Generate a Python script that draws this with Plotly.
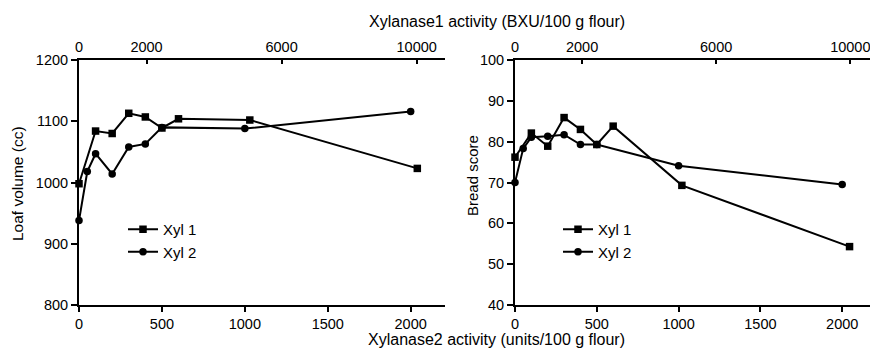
import plotly.graph_objects as go

# ---- data ----
xyl1_dose = [0, 100, 200, 300, 400, 500, 600, 1030, 2040]
xyl2_dose = [0, 50, 100, 200, 300, 400, 500, 1000, 2000]

loaf_xyl1 = [998, 1084, 1080, 1113, 1107, 1089, 1104, 1102, 1023]
loaf_xyl2 = [938, 1018, 1047, 1014, 1058, 1063, 1090, 1088, 1116]

score_xyl1_dose = [0, 100, 200, 300, 400, 500, 600, 1020, 2045]
score_xyl1 = [76.2, 82.1, 78.9, 85.9, 83.0, 79.3, 83.8, 69.3, 54.3]
score_xyl2 = [70.0, 78.3, 81.1, 81.3, 81.7, 79.3, 79.3, 74.1, 69.5]

bottom_ticks = [0, 500, 1000, 1500, 2000]
top_ticks = [0, 2000, 6000, 10000]
top_tick_labels = ["0", "2000", "6000", "10000"]
loaf_ticks = [800, 900, 1000, 1100, 1200]
score_ticks = [40, 50, 60, 70, 80, 90, 100]

FONT = "Liberation Sans, Arial, Helvetica, sans-serif"
FS = 14.5
TFS = 16

fig = go.Figure()

def add(x, y, name, symbol, xa, ya, legend):
    fig.add_trace(go.Scatter(
        x=x, y=y, name=name, mode="lines+markers",
        line=dict(color="black", width=2),
        marker=dict(symbol=symbol, size=7.5, color="black"),
        xaxis=xa, yaxis=ya, legend=legend, cliponaxis=False))

add(xyl1_dose, loaf_xyl1, "Xyl 1", "square", "x", "y", "legend")
add(xyl2_dose, loaf_xyl2, "Xyl 2", "circle", "x", "y", "legend")
add(score_xyl1_dose, score_xyl1, "Xyl 1", "square", "x2", "y2", "legend2")
add(xyl2_dose, score_xyl2, "Xyl 2", "circle", "x2", "y2", "legend2")

# empty traces so the top (BXU) axes are drawn
for xa, ya in (("x3", "y"), ("x4", "y2")):
    fig.add_trace(go.Scatter(x=top_ticks, y=[None] * len(top_ticks), mode="markers",
                             xaxis=xa, yaxis=ya, showlegend=False, hoverinfo="skip"))

W, H = 870, 348
ML, MR, MT, MB = 79, 0, 60, 43
PW = W - ML - MR
PH = H - MT - MB

def px_x(p):
    return (p - ML) / PW

def px_y(p):
    return (H - MB - p) / PH

left_dom = [0, px_x(445)]
right_dom = [px_x(515), 1.0]

bottom_common = dict(
    showline=True, linewidth=2, linecolor="black", showgrid=False, zeroline=False,
    ticks="outside", ticklen=5, tickwidth=1.5, tickcolor="black",
    tickvals=bottom_ticks, ticklabeloverflow="allow",
    tickfont=dict(family=FONT, size=FS, color="black"))
top_common = dict(
    showline=True, linewidth=1.5, linecolor="black", showgrid=False, zeroline=False,
    side="top", ticks="inside", ticklen=4, tickwidth=1.5, tickcolor="black",
    tickvals=top_ticks, ticktext=top_tick_labels, ticklabeloverflow="allow",
    tickfont=dict(family=FONT, size=FS, color="black"))
y_common = dict(
    showline=True, linewidth=2, linecolor="black", showgrid=False, zeroline=False,
    ticks="outside", ticklen=6, tickwidth=1.5, tickcolor="black",
    tickfont=dict(family=FONT, size=FS, color="black"))

fig.update_layout(
    width=W, height=H,
    margin=dict(l=ML, r=MR, t=MT, b=MB),
    paper_bgcolor="white", plot_bgcolor="white",
    font=dict(family=FONT, size=FS, color="black"),
    xaxis=dict(domain=left_dom, range=[0, 2207], anchor="y", **bottom_common),
    xaxis2=dict(domain=right_dom, range=[0, 2170], anchor="y2", **bottom_common),
    xaxis3=dict(overlaying="x", anchor="y", range=[0, 10838], **top_common),
    xaxis4=dict(overlaying="x2", anchor="y2", range=[0, 10588], **top_common),
    yaxis=dict(domain=[0, 1], anchor="x", range=[800, 1200], tickvals=loaf_ticks, **y_common),
    yaxis2=dict(domain=[0, 1], anchor="x2", range=[40, 100], tickvals=score_ticks, **y_common),
    legend=dict(x=px_x(123), y=px_y(213), xanchor="left", yanchor="top",
                bgcolor="rgba(0,0,0,0)", font=dict(family=FONT, size=15, color="black")),
    legend2=dict(x=px_x(558), y=px_y(213), xanchor="left", yanchor="top",
                 bgcolor="rgba(0,0,0,0)", font=dict(family=FONT, size=15, color="black")),
    annotations=[
        dict(text="Xylanase1 activity (BXU/100 g flour)", x=px_x(497), y=px_y(21),
             xref="paper", yref="paper", showarrow=False, xanchor="center", yanchor="middle",
             font=dict(family=FONT, size=TFS, color="black")),
        dict(text="Xylanase2 activity (units/100 g flour)", x=px_x(497), y=px_y(339),
             xref="paper", yref="paper", showarrow=False, xanchor="center", yanchor="middle",
             font=dict(family=FONT, size=TFS, color="black")),
        dict(text="Loaf volume (cc)", x=px_x(17), y=px_y(183), textangle=-90,
             xref="paper", yref="paper", showarrow=False, xanchor="center", yanchor="middle",
             font=dict(family=FONT, size=15.5, color="black")),
        dict(text="Bread score", x=px_x(472), y=px_y(176), textangle=-90,
             xref="paper", yref="paper", showarrow=False, xanchor="center", yanchor="middle",
             font=dict(family=FONT, size=15, color="black")),
    ],
)

fig.write_html("out.html", config={"displayModeBar": False},
               post_script="document.body.style.margin='0';document.body.style.overflow='hidden';")
